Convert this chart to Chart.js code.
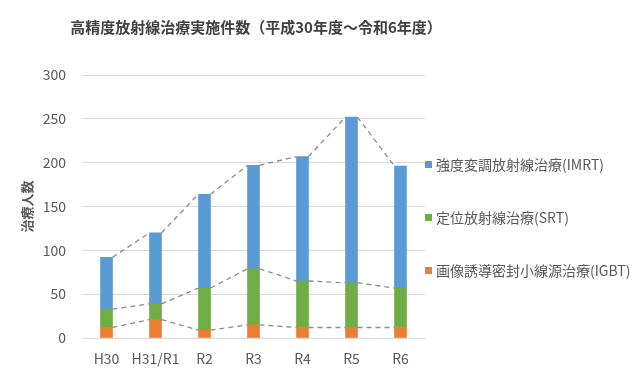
<!DOCTYPE html>
<html>
<head>
<meta charset="utf-8">
<script src="https://cdn.jsdelivr.net/npm/chart.js@4"></script>
<style>
  html, body { margin: 0; padding: 0; background: #fff; }
  #wrap { width: 640px; height: 375px; }
</style>
</head>
<body>
<div id="wrap"><canvas id="radChart" width="640" height="375"></canvas></div>
<script>
  const years = ["H30", "H31/R1", "R2", "R3", "R4", "R5", "R6"];
  const igbt = [12, 21, 9, 15, 12, 12, 12];
  const srt = [21, 18, 48, 64, 53, 51, 45];
  const imrt = [59, 81, 107, 118, 142, 189, 139];
  const yTicks = [0, 50, 100, 150, 200, 250, 300];

  const FONT = "'Noto Sans CJK JP', 'Noto Sans', sans-serif";
  const GREY = "#595959";

  // dashed series lines between the tops of each stacked segment
  const seriesLines = {
    id: "seriesLines",
    afterDatasetsDraw(chart) {
      const ctx = chart.ctx;
      ctx.save();
      ctx.strokeStyle = "#8c8c8c";
      ctx.lineWidth = 1.3;
      ctx.setLineDash([5, 4]);
      chart.data.datasets.forEach((ds, d) => {
        const bars = chart.getDatasetMeta(d).data;
        for (let i = 0; i < bars.length - 1; i++) {
          const a = bars[i], b = bars[i + 1];
          ctx.beginPath();
          ctx.moveTo(a.x + a.width / 2, a.y);
          ctx.lineTo(b.x - b.width / 2, b.y);
          ctx.stroke();
        }
      });
      ctx.restore();
    }
  };

  // legend on the right, widely spaced like the original
  const sideLegend = {
    id: "sideLegend",
    afterDraw(chart) {
      const ctx = chart.ctx;
      const area = chart.chartArea;
      const items = chart.data.datasets.slice().reverse();
      const gap = 53;
      const midY = (area.top + area.bottom) / 2 + 11;
      ctx.save();
      ctx.font = "14px " + FONT;
      ctx.textBaseline = "middle";
      ctx.textAlign = "left";
      items.forEach((ds, i) => {
        const y = midY + (i - 1) * gap;
        const x = area.right;
        ctx.fillStyle = ds.backgroundColor;
        ctx.fillRect(x, y - 3.5, 7, 7);
        ctx.fillStyle = GREY;
        ctx.fillText(ds.label, x + 11, y);
      });
      ctx.restore();
    }
  };

  new Chart(document.getElementById("radChart"), {
    type: "bar",
    data: {
      labels: years,
      datasets: [
        { label: "画像誘導密封小線源治療(IGBT)", data: igbt, backgroundColor: "#ED7D31" },
        { label: "定位放射線治療(SRT)", data: srt, backgroundColor: "#70AD47" },
        { label: "強度変調放射線治療(IMRT)", data: imrt, backgroundColor: "#5B9BD5" }
      ]
    },
    options: {
      responsive: false,
      animation: false,
      layout: { padding: { left: 12, right: 140, top: 10, bottom: 0 } },
      datasets: { bar: { barThickness: 12 } },
      plugins: {
        legend: { display: false },
        tooltip: { enabled: false },
        title: {
          display: true,
          text: "高精度放射線治療実施件数（平成30年度～令和6年度）",
          color: "#404040",
          font: { family: FONT, size: 15, weight: "bold", lineHeight: 1.2 },
          padding: { top: 8, bottom: 39 }
        }
      },
      scales: {
        x: {
          stacked: true,
          grid: { display: false, drawTicks: false },
          border: { color: "#d9d9d9" },
          ticks: { color: GREY, font: { family: FONT, size: 14 }, padding: 12, maxRotation: 0, autoSkip: false },
          afterFit: (axis) => { axis.height = 37; }
        },
        y: {
          stacked: true,
          min: 0,
          max: 300,
          afterBuildTicks: (axis) => { axis.ticks = yTicks.map(v => ({ value: v })); },
          grid: { color: "#d9d9d9", drawTicks: false },
          border: { display: false },
          ticks: { color: GREY, font: { family: FONT, size: 14 }, padding: 16 },
          title: {
            display: true,
            text: "治療人数",
            color: GREY,
            font: { family: FONT, size: 13, weight: "bold", lineHeight: 1.2 },
            padding: { top: 7, bottom: 8 }
          },
          afterFit: (axis) => { axis.width = 70; }
        },
        // empty right axis, only keeps room for the legend
        side: {
          position: "right",
          grid: { display: false, drawTicks: false },
          border: { display: false },
          ticks: { display: false },
          afterFit: (axis) => { axis.width = 75; }
        }
      }
    },
    plugins: [seriesLines, sideLegend]
  });
</script>
</body>
</html>
